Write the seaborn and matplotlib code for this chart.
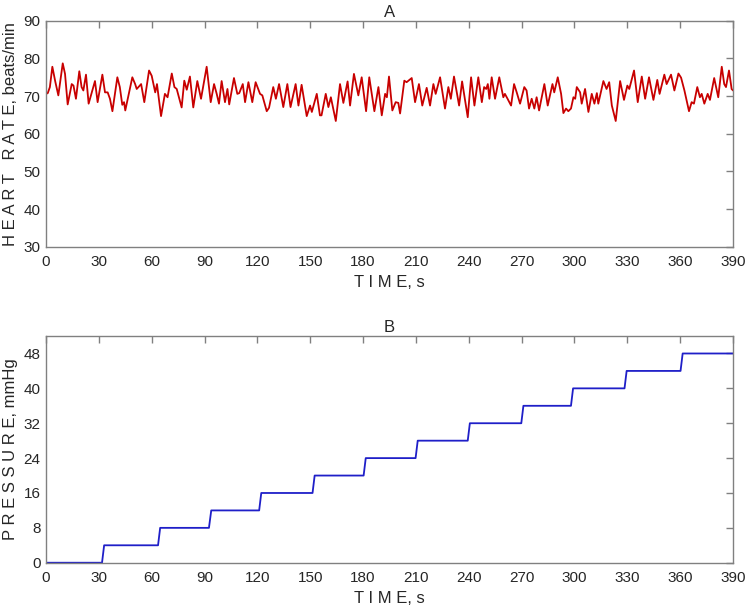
import numpy as np
import pandas as pd
import matplotlib
matplotlib.use("Agg")
import matplotlib.pyplot as plt
import seaborn as sns

# Heart rate trace (time in s, beats/min)
hr_time = [0, 1, 2.2, 3.6, 5.2, 7, 9.5, 10.8, 12.3, 14.6, 15.6, 17, 18.9, 20.2, 21.2, 22.7,
           23.6, 24.2, 27.8, 29.3, 32, 33.5, 35, 36.3, 37.7, 40.5, 41.9, 43.3, 44.3, 45,
           49, 50.6, 51.5, 54, 55.8, 58.5, 60, 62, 63, 65.3, 67.5, 69, 71.4, 72.9, 74.2, 77,
           78.5, 79.9, 81.7, 83.6, 85.9, 88, 91.2, 93.5, 95.4, 96.9, 98.2, 99.7, 101.6,
           103, 104, 106.7, 108.6, 109.7, 111.7, 113, 114.9, 117.1, 119, 121.5, 122.8,
           125.3, 126.6, 129, 130.5, 132.3, 134.7, 137, 138.8, 141.7, 143.3, 145.1, 148,
           149.9, 150.9, 153.7, 155.5, 156.4, 158.8, 160.3, 161.7, 164.5, 166.9, 168.8,
           171.2, 172.6, 174.8, 177.3, 179.2, 181.7, 183.5, 186.4, 188.7, 190.6, 192.5,
           193.5, 194.7, 196.6, 198.5, 200, 201, 203.4, 204.7, 207.6, 209.5, 211.7, 213.6,
           216.1, 218, 219.9, 221.2, 223.7, 226.5, 228.4, 229.8, 231.6, 234.5, 236.2,
           239.4, 241.3, 243.2, 245.4, 247.4, 248.7, 249.9, 250.8, 251.7, 253, 254.9,
           257.3, 259.6, 260.5, 262, 264, 265.7, 267.2, 269.1, 271.5, 272.8, 274.2, 275.7,
           277.2, 278.5, 279.9, 282.9, 284.8, 287.5, 288.5, 290.5, 292.4, 293.7, 295.2,
           296.5, 298, 299.4, 300.4, 301.3, 303.2, 304.1, 306, 307.9, 309.8, 311.3, 312.7,
           313.5, 316.4, 318.2, 319.7, 321.2, 323.4, 325.9, 328.1, 330, 331.1, 333.8,
           335.9, 338.2, 340.1, 342.3, 344.8, 347, 348.3, 351, 352.3, 354.8, 356.7, 359,
           360.5, 362.4, 365, 366.5, 367.8, 369.7, 371.2, 372.2, 373.7, 375.6, 376.9,
           379.3, 381.6, 383.6, 385, 386, 387.7, 389.2, 390]
hr_bpm = [70.6, 70.8, 72.4, 77.8, 74, 70.2, 78.7, 75.9, 67.8, 73.2, 72.8, 69.3, 76.6, 72.4,
          71.5, 75.7, 71, 68, 74, 68.4, 75.7, 71, 71, 69.3, 66, 75, 72.4, 67.7, 68.4, 66.2,
          75, 73.2, 71.9, 73.2, 68.4, 76.8, 75.4, 71, 73.2, 64.7, 70.6, 69.7, 76, 72.4,
          71.9, 67, 74.1, 71.7, 75.2, 67, 74, 69.3, 77.8, 68.4, 73.2, 70.6, 68, 74, 68.4,
          71.9, 67.8, 74.8, 70.6, 70.8, 73.2, 68.4, 73.7, 68.4, 73.7, 70.6, 70.2, 66,
          66.9, 72.4, 69.3, 73.2, 67.1, 73.2, 67.1, 73.2, 67.5, 73, 64.7, 67.5, 65.8,
          70.6, 64.9, 64.9, 70.6, 67.1, 69.7, 63.4, 73.2, 68.2, 73.9, 67.5, 75.9, 70.2,
          75, 66, 75, 66, 72.4, 64.9, 70.6, 69.7, 75.2, 66.2, 68.4, 68.2, 65.4, 74.1,
          73.7, 74.8, 68.4, 73.2, 67.5, 72.2, 67.5, 73.2, 70.6, 75, 66.7, 72.4, 69.3,
          75.2, 67.5, 73.9, 64.4, 75, 67.5, 75, 68.4, 72.4, 71.9, 73.2, 69.3, 75, 69.3,
          75, 69.7, 70.6, 69.3, 67.5, 73.2, 71, 68, 72.4, 71.5, 66.7, 69.3, 66.7, 69.7,
          66.2, 73.2, 67.5, 73.2, 71, 75, 70.6, 65.5, 66.7, 66, 66.7, 69.7, 69.3, 72.4,
          71, 68, 71.9, 65.8, 70.6, 68, 70.8, 68, 74, 71.9, 73.7, 67.5, 63.4, 74, 69,
          72.8, 71.9, 76.8, 68.4, 75.2, 69.3, 75, 69, 74.3, 70.6, 75.7, 73.2, 75.7, 71.5,
          76, 74.9, 71.5, 66, 68.4, 68, 72.4, 69.7, 70.6, 68, 70.6, 69, 74.8, 69.7, 77.8,
          73.2, 72.4, 76.8, 71.9, 71.5]

# Pressure staircase: start/end of each rise and the level reached
step_start = [31.8, 63.6, 92.5, 121, 151.3, 180.3, 209.8, 239.4, 269.8, 298, 328.4, 360.2]
step_end = [33.0, 64.8, 93.8, 122.2, 152.5, 181.5, 211.0, 240.6, 271.0, 299.2, 329.6, 361.4]
step_level = [4, 8, 12, 16, 20, 24, 28, 32, 36, 40, 44, 48]

hr_df = pd.DataFrame({"time": hr_time, "hr": hr_bpm})

p_time = [0]
p_val = [0]
prev = 0
for s, e, lev in zip(step_start, step_end, step_level):
    p_time += [s, e]
    p_val += [prev, lev]
    prev = lev
p_time.append(390)
p_val.append(prev)
p_df = pd.DataFrame({"time": p_time, "pressure": p_val})

sns.set_theme(style="white")
plt.rcParams["font.family"] = ["Liberation Sans", "DejaVu Sans"]
plt.rcParams["axes.edgecolor"] = "#808080"
plt.rcParams["axes.linewidth"] = 1.0

fig = plt.figure(figsize=(7.48, 6.11), dpi=100)
ax1 = fig.add_axes([0.0615, 0.596, 0.9185, 0.370])
ax2 = fig.add_axes([0.0615, 0.079, 0.9185, 0.371])

sns.lineplot(data=hr_df, x="time", y="hr", ax=ax1, color="#c80000", linewidth=1.3)
sns.lineplot(data=p_df, x="time", y="pressure", ax=ax2, color="#1f1fc8", linewidth=1.3)

ax1.set_xlim(0, 390)
ax1.set_ylim(30, 90)
ax1.set_yticks(np.arange(30, 91, 10))
ax2.set_xlim(0, 390)
ax2.set_ylim(0, 52)
ax2.set_yticks(np.arange(0, 49, 8))

for ax in (ax1, ax2):
    ax.set_xticks(np.arange(0, 391, 30))
    ax.tick_params(direction="in", length=5, width=1, color="#808080",
                   top=True, right=True, labelsize=11, labelcolor="#262626")
    ax.tick_params(axis="x", pad=6)
    ax.tick_params(axis="y", pad=4)
    ax.set_xlabel("T I M E, s", fontsize=12, color="#262626", labelpad=4)
    for sp in ax.spines.values():
        sp.set_visible(True)
        sp.set_color("#808080")

ax1.set_ylabel("H E A R T   R A T E, beats/min", fontsize=12, color="#262626", labelpad=4)
ax2.set_ylabel("P R E S S U R E, mmHg", fontsize=12, color="#262626", labelpad=4)
ax1.set_title("A", fontsize=12, color="#262626", pad=3)
ax2.set_title("B", fontsize=12, color="#262626", pad=3)

fig.savefig("out.png", dpi=100)
